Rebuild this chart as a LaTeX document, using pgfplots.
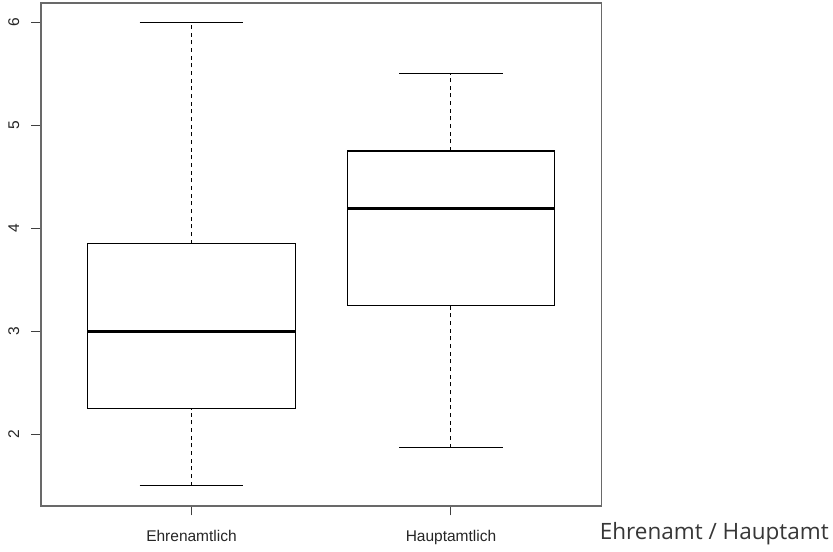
\documentclass[border=0pt]{standalone}
\usepackage{fontspec}
\setmainfont{Liberation Sans}
\newfontfamily\osans{Open Sans}
\usepackage{pgfplots}
\pgfplotsset{compat=1.18}
\usepgfplotslibrary{statistics}
\definecolor{framegray}{RGB}{105,105,105}
\definecolor{txtgray}{RGB}{55,55,55}
\begin{document}
\begin{tikzpicture}
\useasboundingbox (0,0) rectangle (499.8pt,331.2pt);
\fill[white] (0,0) rectangle (499.8pt,331.2pt);
\begin{axis}[
  at={(24.6pt,27.6pt)}, anchor=south west,
  scale only axis, width=336.3pt, height=301.8pt,
  xmin=0.42, xmax=2.58, ymin=1.304, ymax=6.187,
  xtick={1,2}, xticklabels={Ehrenamtlich,Hauptamtlich},
  ytick={2,3,4,5,6},
  tick pos=left, tick align=outside,
  major tick length=5.7pt,
  axis line style={framegray, line width=1pt},
  every tick/.style={black!75, line width=0.6pt},
  ticklabel style={font=\fontsize{9.3}{11}\selectfont, text=black!85},
  yticklabel style={rotate=90, anchor=south, inner sep=0pt},
  yticklabel shift=7.2pt,
  xticklabel shift=5.5pt,
  /pgf/number format/assume math mode=true,
  boxplot/draw direction=y,
  boxplot/every median/.style={line width=1.8pt},
  boxplot/every box/.style={line width=0.65pt},
  boxplot/draw/lower whisker/.code={%
    \draw[line width=0.6pt, dash pattern=on 2.4pt off 2.2pt] (boxplot box cs:\pgfplotsboxplotvalue{lower whisker},0.5) -- (boxplot box cs:\pgfplotsboxplotvalue{lower quartile},0.5);
    \draw[line width=0.65pt] (boxplot whisker cs:\pgfplotsboxplotvalue{lower whisker},0) -- (boxplot whisker cs:\pgfplotsboxplotvalue{lower whisker},1);
  },
  boxplot/draw/upper whisker/.code={%
    \draw[line width=0.6pt, dash pattern=on 2.4pt off 2.2pt] (boxplot box cs:\pgfplotsboxplotvalue{upper quartile},0.5) -- (boxplot box cs:\pgfplotsboxplotvalue{upper whisker},0.5);
    \draw[line width=0.65pt] (boxplot whisker cs:\pgfplotsboxplotvalue{upper whisker},0) -- (boxplot whisker cs:\pgfplotsboxplotvalue{upper whisker},1);
  },
]
\addplot[black, solid, boxplot prepared={lower whisker=1.5, lower quartile=2.25, median=3.0, upper quartile=3.85, upper whisker=6.0, draw position=1, box extend=0.8, whisker extend=0.4}] coordinates {};
\addplot[black, solid, boxplot prepared={lower whisker=1.87, lower quartile=3.25, median=4.19, upper quartile=4.75, upper whisker=5.5, draw position=2, box extend=0.8, whisker extend=0.4}] coordinates {};
\end{axis}
\node[anchor=base west, inner sep=0pt, text=txtgray, font=\osans\fontsize{13.5}{16}\selectfont] at (359.7pt,7.2pt) {Ehrenamt / Hauptamt};
\end{tikzpicture}
\end{document}
